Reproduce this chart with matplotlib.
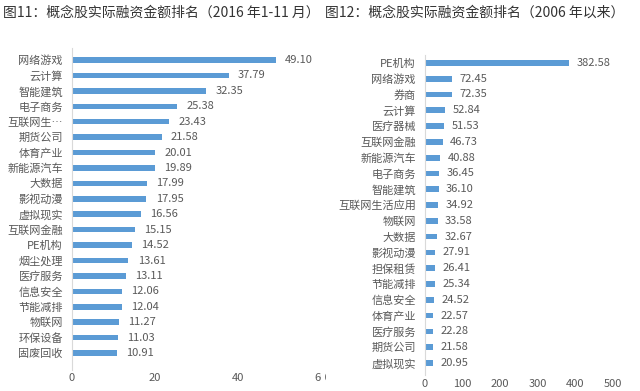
import matplotlib
matplotlib.use("Agg")
import matplotlib.pyplot as plt
from matplotlib.patches import Rectangle

plt.rcParams['font.family'] = ['Noto Sans CJK SC', 'DejaVu Sans']

# --- data: figure 11 (2016 Jan-Nov) ---
cats_2016 = ["网络游戏", "云计算", "智能建筑", "电子商务", "互联网生…", "期货公司",
             "体育产业", "新能源汽车", "大数据", "影视动漫", "虚拟现实", "互联网金融",
             "PE机构", "烟尘处理", "医疗服务", "信息安全", "节能减排", "物联网",
             "环保设备", "固废回收"]
vals_2016 = [49.10, 37.79, 32.35, 25.38, 23.43, 21.58, 20.01, 19.89, 17.99, 17.95,
             16.56, 15.15, 14.52, 13.61, 13.11, 12.06, 12.04, 11.27, 11.03, 10.91]
ticks_2016 = [0, 20, 40, 60]

# --- data: figure 12 (since 2006) ---
cats_all = ["PE机构", "网络游戏", "券商", "云计算", "医疗器械", "互联网金融",
            "新能源汽车", "电子商务", "智能建筑", "互联网生活应用", "物联网", "大数据",
            "影视动漫", "担保租赁", "节能减排", "信息安全", "体育产业", "医疗服务",
            "期货公司", "虚拟现实"]
vals_all = [382.58, 72.45, 72.35, 52.84, 51.53, 46.73, 40.88, 36.45, 36.10, 34.92,
            33.58, 32.67, 27.91, 26.41, 25.34, 24.52, 22.57, 22.28, 21.58, 20.95]
ticks_all = [0, 100, 200, 300, 400, 500]

title_left = "图11：概念股实际融资金额排名（2016 年1-11 月）"
title_right = "图12：概念股实际融资金额排名（2006 年以来）"

BAR = "#5B9BD5"
TXT = "#595959"
W, H = 640, 391

fig = plt.figure(figsize=(W / 100, H / 100), dpi=100)


def px_axes(x0, x1, y0, y1):
    # pixel box (top-left origin) -> figure coords
    return fig.add_axes([x0 / W, 1 - y1 / H, (x1 - x0) / W, (y1 - y0) / H])


def draw_panel(ax, cats, vals, ticks, xmax, ylim, lab_off, tick_pad):
    y = list(range(len(cats)))
    ax.barh(y, vals, height=0.36, color=BAR)
    ax.set_xlim(0, xmax)
    ax.set_ylim(*ylim)
    ax.set_yticks(y)
    ax.set_yticklabels(cats, fontsize=8, color=TXT)
    ax.set_xticks(ticks)
    ax.set_xticklabels([str(t) for t in ticks], fontsize=8, color=TXT)
    ax.tick_params(axis='y', length=0, pad=6.5)
    ax.tick_params(axis='x', length=0, pad=tick_pad)
    for s in ["top", "right", "bottom"]:
        ax.spines[s].set_visible(False)
    ax.spines["left"].set_color("#D9D9D9")
    ax.spines["left"].set_linewidth(0.8)
    for yi, v in zip(y, vals):
        ax.text(v + lab_off, yi, f"{v:.2f}", va="center", ha="left",
                fontsize=8, color=TXT)


# left panel
ax1 = px_axes(72, 321, 48, 370)
draw_panel(ax1, cats_2016, vals_2016, ticks_2016, 60, (20.1, -0.78), 2.2, 2)

# right panel
ax2 = px_axes(425, 613, 55, 375)
draw_panel(ax2, cats_all, vals_all, ticks_all, 500, (19.76, -0.5), 20, 3)

# the left image is cropped at its right edge, hiding part of "60"
fig.patches.append(Rectangle((321 / W, 0), 4 / W, 40 / H, transform=fig.transFigure,
                             facecolor="white", edgecolor="none", zorder=10))

fig.text(3 / W, 1 - 13 / H, title_left, fontsize=10, color="#333333",
         va="center", ha="left")
fig.text(325 / W, 1 - 13 / H, title_right, fontsize=10, color="#333333",
         va="center", ha="left")

fig.savefig("out.png", dpi=100, facecolor="white")
